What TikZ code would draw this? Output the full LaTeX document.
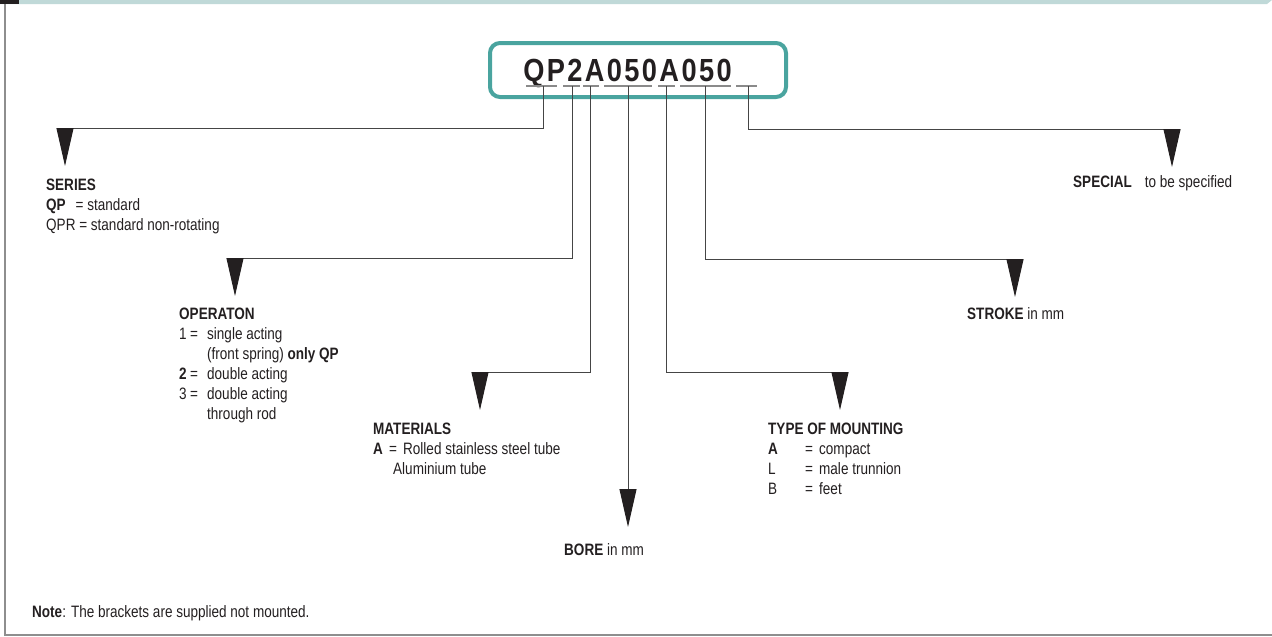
\documentclass[tikz,border=0pt]{standalone}
\usepackage{fontspec}
\setmainfont{Liberation Sans}[FakeStretch=0.82]
\newfontfamily\codefont{Liberation Sans}[FakeStretch=0.85]
\usetikzlibrary{arrows.meta}
\definecolor{ink}{HTML}{231F20}
\definecolor{wire}{HTML}{454545}
\definecolor{uline}{HTML}{8A8A8A}
\definecolor{framegray}{HTML}{8E8E8E}
\definecolor{band}{HTML}{C0D9D8}
\definecolor{boxteal}{HTML}{4AA49F}
\tikzset{
  lbl/.style={anchor=base west,inner sep=0pt,text=ink,font=\fontsize{16.5}{20}\selectfont},
  codetxt/.style={anchor=base,inner sep=0pt,text=ink,font=\codefont\bfseries\fontsize{32}{32}\selectfont},
  feed/.style={draw=wire,line width=1pt,-{Triangle[length=38pt,width=17pt,color=ink]}},
  ubar/.style={draw=uline,line width=1.2pt}
}
\begin{document}
\begin{tikzpicture}[x=1pt,y=-1pt,line join=miter]
  \def\ck{\kern2.4pt}
  \useasboundingbox (0,0) rectangle (1272,637);
  \fill[band] (0,0) -- (1272,0) -- (1267,4) -- (0,4) -- cycle;
  \fill[ink] (0,0) rectangle (19,4);
  \draw[framegray,line width=1.5pt] (5,4) -- (5,635) -- (1272,635);
  % order code
  \node[draw=boxteal,line width=4pt,rounded corners=10pt,minimum width=296pt,minimum height=54pt,inner sep=0pt] (code) at (638,70) {};
  \node[codetxt] (codestr) at (627.5,81) {Q\ck P\ck 2\ck A\ck 0\ck 5\ck 0\ck A\ck 0\ck 5\ck 0};
  \foreach \xa/\xb in {526/557,563/580,583/599,604/652,658/675,680/731,736/757}
    \draw[ubar] (\xa,86) -- (\xb,86);
  \foreach \tx/\ex/\ey [count=\i] in {543/65/166,572/235/296,590/480/410,628/628/527,666/840/410,705/1015/297,748/1172/167}{
    \coordinate (T\i) at (\tx,86); \coordinate (E\i) at (\ex,\ey);}
  % fields
  \node[lbl] (series) at (46,190) {\begin{tabular}[t]{@{}l@{}}\textbf{SERIES}\\
    \textbf{QP}\hspace{10pt}= standard\\ QPR = standard non-rotating\end{tabular}};
  \node[lbl] (oper) at (179,319) {\begin{tabular}[t]{@{}p{11pt}@{}p{17pt}@{}l@{}}
    \multicolumn{3}{@{}l@{}}{\textbf{OPERATON}}\\
    1&=&single acting\\ &&(front spring) \textbf{only QP}\\
    \textbf{2}&=&double acting\\ 3&=&double acting\\ &&through rod\end{tabular}};
  \node[lbl] (material) at (373,434) {\begin{tabular}[t]{@{}p{16pt}@{}p{14pt}@{}l@{}}
    \multicolumn{3}{@{}l@{}}{\textbf{MATERIALS}}\\
    \textbf{A}&=&Rolled stainless steel tube\\
    \multicolumn{3}{@{}l@{}}{\hspace*{20pt}Aluminium tube}\end{tabular}};
  \node[lbl] (bore) at (564,555) {\textbf{BORE} in mm};
  \node[lbl] (mount) at (768,434) {\begin{tabular}[t]{@{}p{37pt}@{}p{14pt}@{}l@{}}
    \multicolumn{3}{@{}l@{}}{\textbf{TYPE OF MOUNTING}}\\
    \textbf{A}&=&compact\\ L&=&male trunnion\\ B&=&feet\end{tabular}};
  \node[lbl] (stroke) at (967,319) {\textbf{STROKE} in mm};
  \node[lbl] (special) at (1073,187) {\textbf{SPECIAL}\hspace{13pt}to be specified};
  \node[lbl] (note) at (32,617) {\textbf{Note}: The brackets are supplied not mounted.};
  % connectors
  \foreach \i in {1,2,3,5,6,7}
    \draw[feed] (T\i) |- ([yshift=38pt]E\i) -- (E\i);
  \draw[feed] (T4) -- (E4);
\end{tikzpicture}
\end{document}
